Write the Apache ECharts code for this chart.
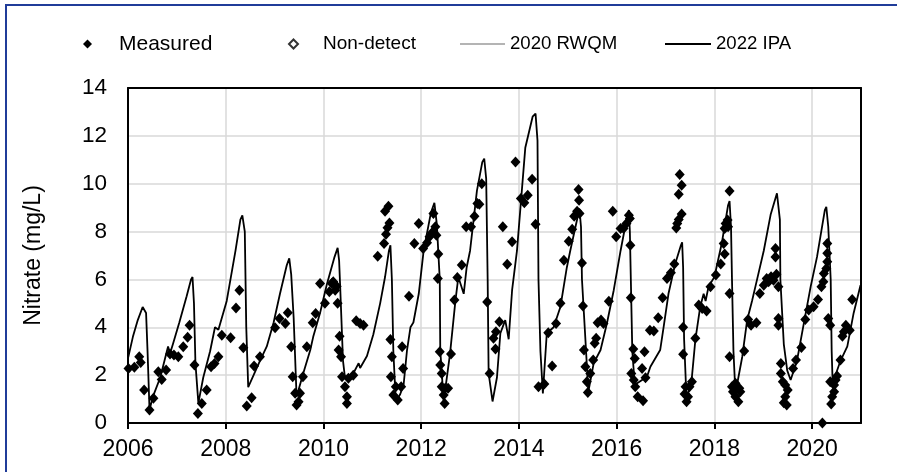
<!DOCTYPE html>
<html>
<head>
<meta charset="utf-8">
<script src="https://cdn.jsdelivr.net/npm/echarts@6/dist/echarts.min.js"></script>
<style>
html,body{margin:0;padding:0;background:#fff;}
#c{width:897px;height:472px;}
</style>
</head>
<body>
<div id="c"></div>
<script>
// ---- Data ----
const xTickYears = [2006, 2008, 2010, 2012, 2014, 2016, 2018, 2020];
const yTicks = [0, 2, 4, 6, 8, 10, 12, 14];

const measuredYears = [
2006.01,2006.13,2006.23,2006.26,2006.33,2006.44,2006.52,2006.62,2006.69,2006.78,2006.86,2006.94,
2007.03,2007.13,2007.22,2007.26,2007.36,2007.43,2007.51,2007.61,2007.70,2007.77,2007.85,2007.92,
2008.10,2008.21,2008.28,2008.36,2008.43,2008.53,2008.58,2008.70,
2009.01,2009.10,2009.22,2009.27,2009.34,2009.37,2009.42,2009.45,2009.49,2009.52,2009.58,2009.66,2009.78,2009.84,2009.93,
2010.03,2010.12,2010.17,2010.20,2010.24,2010.27,2010.29,2010.31,2010.33,2010.36,2010.38,2010.44,2010.48,2010.48,2010.51,2010.61,2010.67,2010.75,2010.82,
2011.11,2011.24,2011.28,2011.31,2011.35,2011.26,2011.33,2011.37,2011.40,2011.38,2011.43,2011.48,2011.52,2011.59,2011.61,2011.63,2011.75,2011.86,2011.95,
2012.04,2012.12,2012.17,2012.22,2012.25,2012.29,2012.31,2012.35,2012.34,2012.38,2012.39,2012.42,2012.42,2012.49,2012.46,2012.48,2012.55,2012.61,2012.68,2012.74,2012.83,2012.92,
2013.02,2013.09,2013.15,2013.19,2013.24,2013.35,2013.40,2013.48,2013.52,2013.53,2013.60,2013.67,2013.76,2013.86,2013.93,
2014.04,2014.11,2014.18,2014.27,2014.34,2014.40,2014.52,2014.60,2014.68,2014.76,2014.85,2014.92,
2015.02,2015.09,2015.13,2015.19,2015.24,2015.23,2015.22,2015.29,2015.31,2015.33,2015.36,2015.39,2015.41,2015.46,2015.52,2015.55,2015.58,2015.61,2015.68,2015.73,2015.84,2015.92,2015.99,
2016.08,2016.14,2016.20,2016.25,2016.27,2016.28,2016.29,2016.30,2016.34,2016.35,2016.37,2016.38,2016.43,2016.52,2016.54,2016.57,2016.59,2016.68,2016.76,2016.85,2016.94,
2017.03,2017.11,2017.18,2017.22,2017.24,2017.27,2017.33,2017.27,2017.33,2017.29,2017.36,2017.36,2017.41,2017.39,2017.43,2017.46,2017.49,2017.54,2017.61,2017.68,2017.75,2017.84,2017.92,
2018.03,2018.13,2018.19,2018.21,2018.21,2018.23,2018.27,2018.28,2018.31,2018.31,2018.31,2018.36,2018.38,2018.43,2018.43,2018.49,2018.51,2018.53,2018.61,2018.69,2018.75,2018.86,2018.93,
2019.01,2019.07,2019.11,2019.16,2019.21,2019.27,2019.31,2019.25,2019.25,2019.31,2019.31,2019.36,2019.36,2019.40,2019.45,2019.50,2019.45,2019.42,2019.48,2019.61,2019.67,2019.78,2019.86,2019.93,
2020.03,2020.12,2020.19,2020.23,2020.24,2020.29,2020.31,2020.31,2020.31,2020.33,2020.37,2020.37,2020.45,2020.48,2020.51,2020.45,2020.41,2020.39,2020.21,2020.58,2020.62,2020.65,2020.69,2020.77,2020.82
];
const measuredValues = [
2.28,2.33,2.77,2.53,1.38,0.54,1.03,2.14,1.82,2.21,2.88,2.84,
2.77,3.19,3.58,4.09,2.42,0.40,0.82,1.38,2.35,2.49,2.77,3.67,
3.56,4.81,5.55,3.14,0.71,1.06,2.38,2.77,
3.98,4.37,4.16,4.61,3.19,1.93,1.24,0.75,0.89,1.24,1.93,3.19,4.19,4.58,5.83,
5.00,5.48,5.83,5.90,5.55,5.72,5.00,3.05,3.63,2.77,1.93,1.52,1.10,0.82,1.87,2.00,4.27,4.16,4.09,
6.97,7.50,7.89,8.16,8.36,8.85,9.06,3.49,2.77,1.93,1.17,1.52,0.96,1.52,3.19,2.28,5.30,7.50,8.34,
7.29,7.53,7.78,7.95,8.76,8.20,7.85,7.06,6.04,2.98,2.42,2.07,1.52,1.45,1.17,0.82,1.45,2.88,5.14,6.08,6.60,8.20,
8.20,8.64,9.17,9.14,10.00,5.06,2.07,3.54,3.09,3.81,4.23,8.20,6.63,7.57,10.91,
9.38,9.20,9.52,10.19,8.31,1.52,1.63,3.77,2.38,4.16,5.00,6.80,
7.60,8.10,8.64,8.85,8.76,9.31,9.76,6.69,4.89,3.05,2.35,1.72,1.27,2.07,2.63,3.33,3.54,4.19,4.30,4.16,5.09,8.85,7.78,
8.13,8.13,8.34,8.68,8.55,7.43,5.23,2.07,3.09,1.80,2.70,1.52,1.10,2.28,0.93,2.98,1.89,3.88,3.84,4.40,5.23,
6.04,6.28,6.64,8.15,8.34,8.50,8.73,9.56,9.94,10.38,4.00,2.87,1.52,1.21,0.89,1.10,1.52,1.72,3.54,4.93,4.79,4.68,5.69,
6.18,6.64,7.50,7.06,8.13,8.34,8.48,8.20,9.70,5.41,2.77,1.52,1.31,1.66,1.10,0.89,1.45,1.31,3.01,4.33,4.09,4.19,5.41,
5.76,6.04,5.90,6.11,5.97,6.22,5.69,6.94,7.29,4.37,4.09,2.49,2.07,1.72,1.59,1.38,1.10,0.85,0.75,2.28,2.63,3.16,4.33,4.72,
4.86,5.16,5.69,5.90,6.25,6.46,6.74,7.09,7.50,4.37,4.09,1.72,1.59,1.80,1.96,1.31,1.10,0.79,0.00,2.63,3.63,3.81,4.09,3.88,5.16
];

const nonDetectYears = [];
const nonDetectValues = [];

const rwqmYears = [];
const rwqmValues = [];

const ipaYears = [
2006.00,2006.10,2006.20,2006.30,2006.33,2006.37,2006.40,2006.44,2006.51,2006.66,2006.82,2006.86,2006.92,
2007.05,2007.20,2007.29,2007.32,2007.35,2007.38,2007.44,2007.54,2007.68,2007.78,2007.85,
2008.02,2008.20,2008.30,2008.34,2008.36,2008.39,2008.42,2008.46,2008.57,2008.70,2008.84,2008.98,
2009.11,2009.25,2009.30,2009.34,2009.39,2009.45,2009.59,2009.73,2009.79,2009.93,
2010.07,2010.22,2010.29,2010.32,2010.34,2010.40,2010.44,2010.61,2010.72,2010.75,2010.89,
2011.02,2011.16,2011.26,2011.34,2011.37,2011.40,2011.43,2011.48,2011.57,2011.64,2011.71,2011.78,2011.84,2011.95,
2012.05,2012.20,2012.27,2012.29,2012.32,2012.38,2012.39,2012.46,2012.59,2012.70,2012.76,2012.87,2012.93,
2013.00,2013.14,2013.25,2013.29,2013.33,2013.36,2013.38,2013.46,2013.55,2013.62,2013.72,2013.79,2013.86,2013.96,
2014.13,2014.28,2014.34,2014.38,2014.40,2014.44,2014.49,2014.57,2014.71,2014.85,2014.98,
2015.05,2015.20,2015.24,2015.27,2015.29,2015.36,2015.42,2015.53,2015.67,2015.80,2015.94,
2016.08,2016.22,2016.25,2016.27,2016.29,2016.32,2016.37,2016.45,2016.62,2016.69,2016.89,2016.96,
2017.06,2017.20,2017.31,2017.34,2017.36,2017.38,2017.43,2017.54,2017.61,2017.71,2017.78,2017.82,2017.88,
2018.00,2018.15,2018.28,2018.31,2018.34,2018.36,2018.39,2018.43,2018.57,2018.67,2018.77,2018.87,
2019.01,2019.15,2019.28,2019.31,2019.34,2019.35,2019.42,2019.49,2019.56,2019.69,2019.83,2019.97,
2020.10,2020.26,2020.29,2020.33,2020.38,2020.40,2020.42,2020.58,2020.72,2020.85,2020.99
];
const ipaValues = [
2.7,3.6,4.3,4.85,4.93,4.6,3.0,0.55,1.1,1.9,3.2,2.9,3.3,
4.2,5.3,6.0,6.1,5.0,2.5,0.83,1.9,3.0,4.0,3.9,
5.1,7.2,8.5,8.68,8.6,8.0,4.0,1.5,2.0,2.6,3.2,4.2,
5.4,6.6,6.88,6.2,4.4,1.1,2.1,3.05,3.6,4.6,
5.8,6.9,7.32,6.8,5.8,2.6,1.9,2.07,2.5,2.3,2.8,
3.7,5.0,6.1,7.2,7.43,6.0,3.0,0.9,1.2,1.6,3.05,4.0,4.2,5.4,
7.2,8.8,9.2,9.24,8.3,6.0,3.05,0.9,2.9,5.1,6.1,5.4,6.5,
7.2,9.7,10.9,11.05,10.2,6.0,2.07,0.9,1.9,3.75,4.3,3.5,5.55,7.2,
11.5,12.8,12.93,11.8,6.0,3.0,1.24,3.75,4.0,4.86,6.5,
7.2,8.6,8.9,8.2,6.0,3.5,1.3,2.5,3.05,4.16,5.55,
7.2,8.7,8.9,8.0,6.0,3.0,1.6,1.7,1.93,2.35,3.05,4.0,
5.4,6.67,7.4,7.55,6.5,3.5,0.96,1.93,3.47,4.86,5.4,5.1,5.7,
6.1,7.5,9.1,9.28,8.2,6.0,3.0,1.24,2.77,4.3,5.1,5.97,
7.2,8.7,9.6,9.66,8.5,6.0,3.3,2.2,1.8,2.6,4.16,5.7,
6.94,8.9,9.03,8.2,6.0,3.0,1.66,2.6,3.2,4.6,5.76
];

// ---- Build ----
const pairs = (xs, ys) => xs.map((x, i) => [x, ys[i]]);
const FONT = 'Liberation Sans, Arial, sans-serif';

const chart = echarts.init(document.getElementById('c'), null, {renderer: 'canvas'});

function legendItem(left, name, icon, w, h, fontSize, padLeft) {
  return {
    orient: 'horizontal', left: left, top: 32, padding: 0,
    itemWidth: w, itemHeight: h, selectedMode: false,
    data: [{name: name, icon: icon}],
    textStyle: {fontFamily: FONT, fontSize: fontSize, color: '#000', lineHeight: 24,
      padding: [0, 0, 0, padLeft]}
  };
}

chart.setOption({
  backgroundColor: '#fff',
  animation: false,
  graphic: [{
    type: 'rect', silent: true, z: 100,
    shape: {x: 6, y: 5, width: 1000, height: 1000},
    style: {fill: null, stroke: '#203c99', lineWidth: 2}
  }],
  legend: [
    legendItem(83, 'Measured', 'diamond', 9, 9, 21, 22),
    legendItem(288, 'Non-detect', 'diamond', 9, 9, 19, 20),
    legendItem(460, '2020 RWQM', 'rect', 45, 2, 18.6, 0),
    legendItem(665, '2022 IPA', 'rect', 46, 2, 18.6, 0)
  ],
  grid: {left: 128, top: 88, width: 733, height: 335, containLabel: false},
  xAxis: [{
    type: 'value', min: 2006, max: 2021, interval: 2,
    axisLine: {show: true, onZero: false, lineStyle: {color: '#000', width: 2}},
    axisTick: {show: true, inside: false, length: 6, lineStyle: {color: '#000', width: 2}},
    axisLabel: {
      show: true, margin: 15, showMaxLabel: false,
      fontFamily: FONT, fontSize: 23, color: '#000',
      formatter: v => (xTickYears.indexOf(v) >= 0 ? String(v) : '')
    },
    splitLine: {show: true, lineStyle: {color: '#d9d9d9', width: 1.5}}
  }, {
    type: 'value', min: 2006, max: 2021, position: 'top',
    axisLine: {show: true, onZero: false, lineStyle: {color: '#000', width: 2}},
    axisTick: {show: false}, axisLabel: {show: false}, splitLine: {show: false}
  }],
  yAxis: [{
    type: 'value', min: 0, max: 14, interval: 2,
    name: 'Nitrate (mg/L)', nameLocation: 'middle', nameGap: 83, nameRotate: 90,
    nameTextStyle: {fontFamily: FONT, fontSize: 23, color: '#000'},
    axisLine: {show: true, onZero: false, lineStyle: {color: '#000', width: 2}},
    axisTick: {show: false},
    axisLabel: {margin: 21, fontFamily: FONT, fontSize: 22.5, color: '#000',
      formatter: v => (yTicks.indexOf(v) >= 0 ? String(v) : '')},
    splitLine: {show: true, lineStyle: {color: '#d9d9d9', width: 1.5}}
  }, {
    type: 'value', min: 0, max: 14, position: 'right',
    axisLine: {show: true, onZero: false, lineStyle: {color: '#000', width: 2}},
    axisTick: {show: false}, axisLabel: {show: false}, splitLine: {show: false}
  }],
  series: [
    {
      name: 'Measured', type: 'scatter', symbol: 'diamond', symbolSize: [10, 11],
      itemStyle: {color: '#000', opacity: 1},
      data: pairs(measuredYears, measuredValues), z: 3
    },
    {
      name: 'Non-detect', type: 'scatter', symbol: 'diamond', symbolSize: [10, 11],
      itemStyle: {color: '#fff', borderColor: '#000', borderWidth: 1.5},
      data: pairs(nonDetectYears, nonDetectValues), z: 3
    },
    {
      name: '2020 RWQM', type: 'line', showSymbol: false, symbol: 'none',
      lineStyle: {color: '#b4b4b4', width: 2}, itemStyle: {color: '#b4b4b4'},
      data: pairs(rwqmYears, rwqmValues), z: 4
    },
    {
      name: '2022 IPA', type: 'line', showSymbol: false, symbol: 'none',
      lineStyle: {color: '#000', width: 1.8}, itemStyle: {color: '#000'},
      data: pairs(ipaYears, ipaValues), z: 5
    }
  ]
});
</script>
</body>
</html>
